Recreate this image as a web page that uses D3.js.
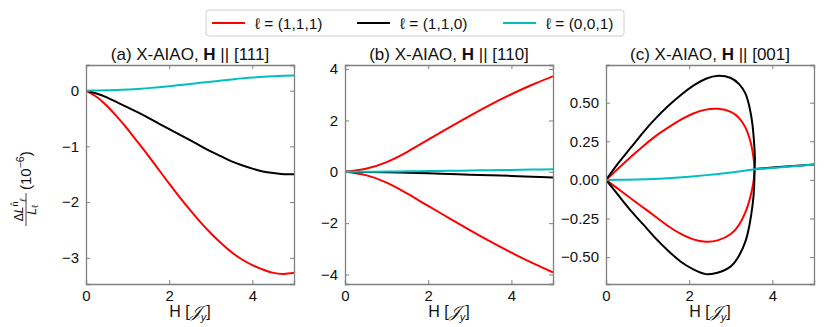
<!DOCTYPE html>
<html><head><meta charset="utf-8">
<script src="https://cdn.jsdelivr.net/npm/d3@7"></script>
<style>body{margin:0;background:#fff}svg{display:block}text{font-family:"Liberation Sans",Arial,sans-serif}</style>
</head><body><svg id="c" width="830" height="327"></svg>
<script>
const xTicks = [0, 2, 4];
const titlesPre = ["(a) X-AIAO, ", "(b) X-AIAO, ", "(c) X-AIAO, "];
const titlesPost = [" || [111]", " || [110]", " || [001]"];
const yTicksA = [0, -1, -2, -3];
const yTicksB = [4, 2, 0, -2, -4];
const yTicksC = [0.5, 0.25, 0, -0.25, -0.5];
const yDomA = [-3.47, 0.46];
const yDomB = [-4.37, 4.16];
const yDomC = [-0.674, 0.744];
const legendLabels = ["ℓ = (1,1,1)", "ℓ = (1,1,0)", "ℓ = (0,0,1)"];
const colors = ["#ff0000", "#000000", "#00bfbf"];

// Panel (a): H values and series
const hA = [0,0.25,0.5,0.75,1,1.25,1.5,1.75,2,2.25,2.5,2.75,3,3.25,3.5,3.75,4,4.25,4.5,4.75,5];
const redA = [0,-0.11,-0.27,-0.47,-0.69,-0.93,-1.17,-1.42,-1.67,-1.91,-2.14,-2.36,-2.56,-2.74,-2.90,-3.03,-3.13,-3.21,-3.27,-3.29,-3.27];
const blackA = [0,-0.05,-0.12,-0.21,-0.30,-0.39,-0.49,-0.59,-0.69,-0.79,-0.89,-0.99,-1.09,-1.18,-1.27,-1.34,-1.40,-1.45,-1.48,-1.50,-1.50];
const cyanA = [0,0.001,0.005,0.011,0.02,0.031,0.045,0.062,0.08,0.10,0.12,0.14,0.16,0.18,0.20,0.22,0.235,0.25,0.26,0.267,0.27];

// Panel (b)
const hB = [0,0.5,1,1.5,2,2.5,3,3.5,4,4.5,5];
const redUpB = [0,0.12,0.38,0.78,1.25,1.72,2.18,2.62,3.02,3.39,3.72];
const redLowB = [0,-0.13,-0.42,-0.85,-1.33,-1.8,-2.27,-2.72,-3.15,-3.55,-3.92];
const blackB = [0,-0.008,-0.02,-0.04,-0.06,-0.085,-0.11,-0.135,-0.16,-0.19,-0.22];
const cyanB = [0,0.004,0.01,0.02,0.03,0.04,0.05,0.062,0.075,0.088,0.1];

// Panel (c): parametric branches (H, value), each running from origin to the cusp
const hRedUpC = [0,0.3,0.6,0.9,1.2,1.5,1.8,2.1,2.4,2.7,3.0,3.2,3.35,3.45,3.52,3.56,3.57];
const redUpC = [0,0.075,0.15,0.22,0.285,0.34,0.39,0.43,0.455,0.46,0.44,0.40,0.34,0.27,0.19,0.11,0.07];
const hRedLowC = [0,0.3,0.6,0.9,1.2,1.5,1.8,2.1,2.4,2.7,3.0,3.2,3.35,3.45,3.52,3.56,3.57];
const redLowC = [0,-0.06,-0.12,-0.18,-0.24,-0.30,-0.35,-0.385,-0.40,-0.39,-0.35,-0.29,-0.21,-0.13,-0.05,0.02,0.07];
const hBlackUpC = [0,0.3,0.6,0.9,1.2,1.5,1.8,2.1,2.4,2.7,3.0,3.2,3.35,3.45,3.52,3.56,3.58,3.57];
const blackUpC = [0,0.11,0.21,0.31,0.40,0.48,0.55,0.61,0.655,0.675,0.66,0.62,0.56,0.47,0.36,0.24,0.14,0.07];
const hBlackLowC = [0,0.3,0.6,0.9,1.2,1.5,1.8,2.1,2.4,2.7,3.0,3.2,3.35,3.45,3.52,3.56,3.57];
const blackLowC = [0,-0.10,-0.20,-0.29,-0.38,-0.46,-0.53,-0.58,-0.61,-0.60,-0.56,-0.49,-0.40,-0.29,-0.17,-0.05,0.07];
const hTailC = [3.57, 4, 4.5, 5];
const tailC = [0.07, 0.08, 0.09, 0.1];
const hCyanC = [0,0.5,1,1.5,2,2.5,3,3.5,4,4.5,5];
const cyanC = [0,0.001,0.004,0.01,0.02,0.033,0.048,0.066,0.077,0.088,0.1];

const svg = d3.select("#c");
const lefts = [86, 345, 606], W = 208, topY = 65, bottomY = 284;
const zip = (xs, ys) => xs.map((x, i) => [x, ys[i]]);
const intFmt = d => d3.format("d")(d).replace("-", "−");

const panels = [
  {dom: yDomA, ticks: yTicksA, fmt: intFmt,
   series: [[zip(hA, redA), 0], [zip(hA, blackA), 1], [zip(hA, cyanA), 2]]},
  {dom: yDomB, ticks: yTicksB, fmt: intFmt,
   series: [[zip(hB, redUpB), 0], [zip(hB, redLowB), 0], [zip(hB, blackB), 1], [zip(hB, cyanB), 2]]},
  {dom: yDomC, ticks: yTicksC, fmt: d => d3.format(".2f")(d).replace("-", "−"),
   series: [[zip(hRedUpC, redUpC), 0], [zip(hRedLowC, redLowC), 0],
            [zip(hBlackUpC, blackUpC), 1], [zip(hBlackLowC, blackLowC), 1],
            [zip(hTailC, tailC), 1],
            [zip(hCyanC, cyanC), 2]]}
];

panels.forEach((p, i) => {
  const x = d3.scaleLinear().domain([0, 5]).range([lefts[i], lefts[i] + W]);
  const y = d3.scaleLinear().domain(p.dom).range([bottomY, topY]);
  const g = svg.append("g");
  const clipId = "clip" + i;
  svg.append("clipPath").attr("id", clipId).append("rect")
    .attr("x", lefts[i]).attr("y", topY).attr("width", W).attr("height", bottomY - topY);
  const line = d3.line().x(d => x(d[0])).y(d => y(d[1])).curve(d3.curveNatural);
  p.series.forEach(([pts, ci]) => {
    g.append("path").attr("d", line(pts)).attr("fill", "none")
      .attr("stroke", colors[ci]).attr("stroke-width", 2).attr("clip-path", `url(#${clipId})`);
  });
  const axColor = "#808080";
  const ax = svg.append("g");
  ax.append("g").attr("transform", `translate(0,${bottomY})`)
    .call(d3.axisBottom(x).tickValues(xTicks).tickSize(-4).tickPadding(6).tickFormat(d3.format("d")));
  ax.append("g").attr("transform", `translate(0,${topY})`)
    .call(d3.axisTop(x).tickValues(xTicks).tickSize(-4).tickFormat(""));
  ax.append("g").attr("transform", `translate(${lefts[i]},0)`)
    .call(d3.axisLeft(y).tickValues(p.ticks).tickSize(-4).tickPadding(7).tickFormat(p.fmt));
  ax.append("g").attr("transform", `translate(${lefts[i] + W},0)`)
    .call(d3.axisRight(y).tickValues(p.ticks).tickSize(-4).tickFormat(""));
  ax.selectAll(".domain").attr("stroke", axColor).attr("stroke-width", 1.3);
  ax.selectAll(".tick line").attr("stroke", axColor);
  ax.selectAll(".tick text").attr("font-size", 15).attr("fill", "#111")
    .attr("font-family", '"Liberation Sans",Arial,sans-serif');
  // title
  const t = svg.append("text").attr("x", lefts[i] + W / 2).attr("y", 60)
    .attr("text-anchor", "middle").attr("font-size", 17).attr("fill", "#111");
  t.append("tspan").text(titlesPre[i]);
  t.append("tspan").attr("font-weight", "bold").text("H");
  t.append("tspan").text(titlesPost[i]);
  // x label
  const xl = svg.append("text").attr("x", lefts[i] + W / 2).attr("y", 317)
    .attr("text-anchor", "middle").attr("font-size", 16).attr("fill", "#111");
  xl.append("tspan").text("H [");
  xl.append("tspan").attr("font-style", "italic").attr("font-family", "DejaVu Serif, serif").text("𝒥");
  xl.append("tspan").attr("font-size", 11).attr("dy", 4).attr("font-style", "italic").text("y");
  xl.append("tspan").attr("dy", -4).text("]");
});

// y label (rotated fraction)
const yl = svg.append("g").attr("transform", "translate(31,188) rotate(-90)");
yl.append("text").attr("x", -22).attr("y", -8).attr("text-anchor", "middle")
  .attr("font-size", 12).attr("fill", "#111")
  .html('<tspan>Δ</tspan><tspan font-style="italic">L</tspan><tspan font-size="9" dy="-5">n̂</tspan><tspan font-size="9" dy="8" font-style="italic">ℓ</tspan>');
yl.append("line").attr("x1", -38).attr("x2", -5).attr("y1", -5).attr("y2", -5).attr("stroke", "#111").attr("stroke-width", 0.8);
yl.append("text").attr("x", -22).attr("y", 5).attr("text-anchor", "middle")
  .attr("font-size", 12).attr("fill", "#111")
  .html('<tspan font-style="italic">L</tspan><tspan font-size="9" dy="2">ℓ</tspan>');
yl.append("text").attr("x", -2).attr("y", 0).attr("font-size", 15).attr("fill", "#111")
  .html('(10<tspan font-size="10.5" dy="-7">−6</tspan><tspan dy="7">)</tspan>');

// legend
const lg = svg.append("g");
lg.append("rect").attr("x", 206).attr("y", 10).attr("width", 418).attr("height", 26)
  .attr("rx", 3).attr("fill", "#fff").attr("stroke", "#d0d0d0");
const lx = [212, 357, 503];
legendLabels.forEach((lab, i) => {
  lg.append("line").attr("x1", lx[i]).attr("x2", lx[i] + 33).attr("y1", 23).attr("y2", 23)
    .attr("stroke", colors[i]).attr("stroke-width", 2);
  lg.append("text").attr("x", lx[i] + 43).attr("y", 28.5).attr("font-size", 15.5).attr("fill", "#111").text(lab);
});
</script></body></html>
